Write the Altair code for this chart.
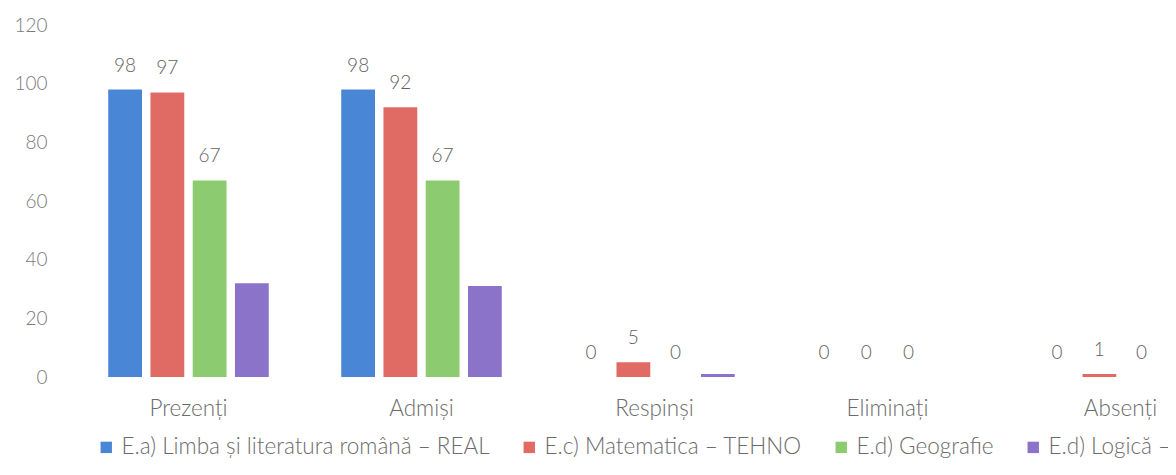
import altair as alt
import pandas as pd

categories = ["Prezenți", "Admiși", "Respinși", "Eliminați", "Absenți"]
series = [
    "E.a) Limba și literatura română – REAL",
    "E.c) Matematica – TEHNO",
    "E.d) Geografie",
    "E.d) Logică – UMAN",
]
colors = ["#4A86D6", "#E06B64", "#8DCB71", "#8A73C9"]

blue_vals = [98, 98, 0, 0, 0]
red_vals = [97, 92, 5, 0, 1]
green_vals = [67, 67, 0, 0, 0]
purple_vals = [32, 31, 1, 0, 0]
labelled = [True, True, True, False]

rows = []
for s, vals, lab in zip(series, [blue_vals, red_vals, green_vals, purple_vals], labelled):
    for c, v in zip(categories, vals):
        rows.append({"cat": c, "serie": s, "val": v, "lab": lab})
df = pd.DataFrame(rows)

FONT = "Lato"
FS_NUM = 19
FS_TXT = 22.5

x = alt.X("cat:N", sort=categories, title=None,
          scale=alt.Scale(paddingInner=0.2747, paddingOuter=0.1373, range=[0, 1165]),
          axis=alt.Axis(ticks=False, domain=False, labelAngle=0, labelPadding=20,
                        labelFontSize=FS_TXT, labelFont=FONT, labelFontWeight=300,
                        labelColor="#6b6b6b"))
xo = alt.XOffset("serie:N", sort=series,
                 scale=alt.Scale(domain=series, paddingInner=0.2, paddingOuter=0.1))
y = alt.Y("val:Q", title=None,
          scale=alt.Scale(domain=[0, 120], nice=False),
          axis=alt.Axis(values=[0, 20, 40, 60, 80, 100, 120], ticks=False, domain=False,
                        grid=False, labelPadding=25, labelFontSize=FS_NUM, labelFont=FONT,
                        labelFontWeight=300, labelColor="#7a7a7a"))

bars = alt.Chart(df).mark_bar().encode(
    x=x, xOffset=xo, y=y,
    color=alt.Color("serie:N", sort=series,
                    scale=alt.Scale(domain=series, range=colors),
                    legend=alt.Legend(title=None, orient="none", legendX=23, legendY=411,
                                      direction="horizontal", symbolType="square",
                                      symbolSize=130, symbolStrokeWidth=0,
                                      labelFontSize=FS_TXT, labelFont=FONT, labelFontWeight=300,
                                      labelColor="#6b6b6b", columnPadding=28,
                                      labelOffset=4, padding=0, labelLimit=0)),
)

texts = alt.Chart(df).transform_filter("datum.lab").mark_text(
    dy=-24, baseline="middle", fontSize=FS_NUM, font=FONT, fontWeight=300, color="#5f5f5f"
).encode(x=x, xOffset=xo, y=y, text=alt.Text("val:Q"))

chart = alt.layer(bars, texts).properties(
    width=1096, height=352,
    background="white",
    autosize=alt.AutoSizeParams(type="none"),
    padding={"left": 64, "top": 17, "right": 0, "bottom": 85},
).configure_view(stroke=None)

chart.save("out.html", embed_options={"renderer": "svg", "actions": False})
